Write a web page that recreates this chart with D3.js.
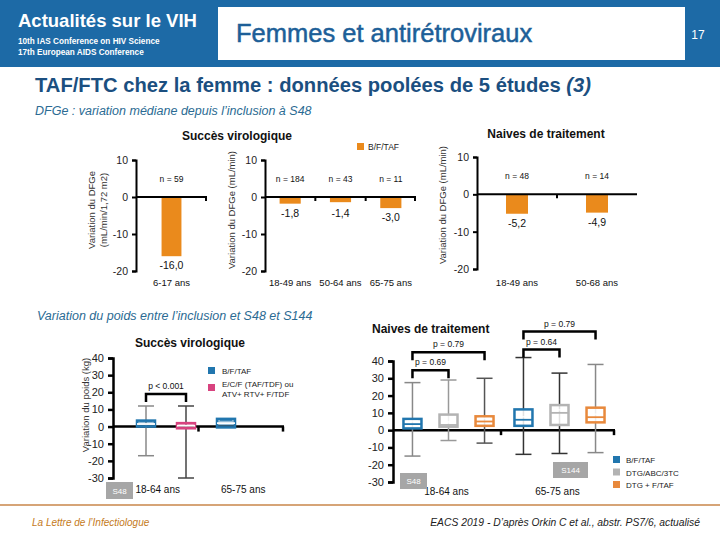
<!DOCTYPE html>
<html><head><meta charset="utf-8">
<script src="https://cdn.jsdelivr.net/npm/d3@7"></script>
<style>
body{margin:0;background:#fff;}
svg{display:block;font-family:"Liberation Sans",Arial,sans-serif;}
</style></head>
<body>
<svg id="c" width="720" height="540"></svg>
<script>
// ---------- DATA ----------
const dfgeTicks = [10, 0, -10, -20];
const succesYoungCats = ["6-17 ans"];
const succesYoungVals = [-16.0];
const succesYoungN = ["n = 59"];
const succesAdultCats = ["18-49 ans", "50-64 ans", "65-75 ans"];
const succesAdultVals = [-1.8, -1.4, -3.0];
const succesAdultN = ["n = 184", "n = 43", "n = 11"];
const naiveCats = ["18-49 ans", "50-68 ans"];
const naiveVals = [-5.2, -4.9];
const naiveN = ["n = 48", "n = 14"];

const poidsTicks = [40, 30, 20, 10, 0, -10, -20, -30];
const poidsGroups = ["18-64 ans", "65-75 ans"];
// virologic success boxes: [group, series, q1, median, q3, low, high]
const succesBoxSeries = ["B/F/TAF", "E/C/F (TAF/TDF) ou|ATV+ RTV+ F/TDF"];
const succesBoxes = [
  ["18-64 ans", "B/F/TAF", 0, 1.5, 3.5, -17, 12],
  ["18-64 ans", "E/C/F (TAF/TDF) ou|ATV+ RTV+ F/TDF", -1, 0.5, 2, -30, 12],
  ["65-75 ans", "B/F/TAF", -0.5, 2, 4.5, null, null]
];
const naiveBoxSeries = ["B/F/TAF", "DTG/ABC/3TC", "DTG + F/TAF"];
const naiveBoxes = [
  ["18-64 ans", "B/F/TAF", 1, 3.5, 6.5, -15, 27.5],
  ["18-64 ans", "DTG/ABC/3TC", 2, 3, 9, -6, 29],
  ["18-64 ans", "DTG + F/TAF", 2.5, 5, 8, -7.5, 30],
  ["65-75 ans", "B/F/TAF", 2.5, 6, 12, -14, 42],
  ["65-75 ans", "DTG/ABC/3TC", 3, 10, 14.5, -13.5, 33],
  ["65-75 ans", "DTG + F/TAF", 4.5, 7.5, 13, -13, 38]
];
// p-value brackets: [group, seriesFrom, seriesTo, label, level]
const succesP = [["18-64 ans", "B/F/TAF", "E/C/F (TAF/TDF) ou|ATV+ RTV+ F/TDF", "p < 0.001", 0]];
const naiveP = [
  ["18-64 ans", "B/F/TAF", "DTG/ABC/3TC", "p = 0.69", 0],
  ["18-64 ans", "B/F/TAF", "DTG + F/TAF", "p = 0.79", 1],
  ["65-75 ans", "B/F/TAF", "DTG/ABC/3TC", "p = 0.64", 0],
  ["65-75 ans", "B/F/TAF", "DTG + F/TAF", "p = 0.79", 1]
];

// ---------- STYLE ----------
const BLUE_HDR = "#1d6aa6";
const ORANGE = "#ea8a1c";
const seriesColor = {
  "B/F/TAF": "#2176ae",
  "E/C/F (TAF/TDF) ou|ATV+ RTV+ F/TDF": "#d8437f",
  "DTG/ABC/3TC": "#b3b3b3",
  "DTG + F/TAF": "#e8893c"
};
const succesWhisk = ["#888", "#444", "#888"];
const naiveWhisk = ["#888", "#999", "#555", "#333", "#333", "#888"];

const svg = d3.select("#c");

// ---------- HEADER ----------
svg.append("rect").attr("x",0).attr("y",0).attr("width",720).attr("height",67).attr("fill",BLUE_HDR);
svg.append("rect").attr("x",218).attr("y",7).attr("width",467).attr("height",53).attr("fill","#fff");
svg.append("text").attr("x",236).attr("y",42).attr("font-size",25.5).attr("fill","#1d5f98")
  .attr("stroke","#1d5f98").attr("stroke-width",0.5).text("Femmes et antirétroviraux");
svg.append("text").attr("x",698).attr("y",39).attr("font-size",12).attr("fill","#fff").attr("text-anchor","middle").text("17");
svg.append("text").attr("x",18).attr("y",27).attr("font-size",18.5).attr("font-weight","bold").attr("fill","#fff").text("Actualités sur le VIH");
svg.append("text").attr("x",18).attr("y",44).attr("font-size",8.2).attr("font-weight","bold").attr("fill","#fff").text("10th IAS Conference on HIV Science");
svg.append("text").attr("x",18).attr("y",55).attr("font-size",8.2).attr("font-weight","bold").attr("fill","#fff").text("17th European AIDS Conference");

const sub = svg.append("text").attr("x",35).attr("y",92).attr("font-size",20.2).attr("font-weight","bold").attr("fill","#1b4f80");
sub.append("tspan").text("TAF/FTC chez la femme : données poolées de 5 études ");
sub.append("tspan").attr("font-style","italic").text("(3)");

svg.append("text").attr("x",35).attr("y",115).attr("font-size",12.5).attr("font-style","italic").attr("fill","#2b6b93").text("DFGe : variation médiane depuis l’inclusion à S48");
svg.append("text").attr("x",37).attr("y",320).attr("font-size",12.5).attr("font-style","italic").attr("fill","#2b6b93").text("Variation du poids entre l’inclusion et S48 et S144");

// ---------- BAR CHARTS ----------
const fmtVal = d => d3.format(".1f")(d).replace(".",",").replace("\u2212","-");
function barChart(opt){
  const g = svg.append("g");
  const y = d3.scaleLinear().domain([-20,10]).range(opt.yr);
  const x = d3.scaleBand().domain(opt.cats).range(opt.xr).paddingInner(opt.pi).paddingOuter(opt.pi/2);
  const ax = g.append("g").attr("transform",`translate(${opt.xr[0]},0)`)
    .call(d3.axisLeft(y).tickValues(dfgeTicks).tickSize(4).tickPadding(4).tickFormat(d=>String(d)));
  ax.select(".domain").attr("stroke","#000").attr("stroke-width",2);
  ax.selectAll(".tick line").attr("stroke","#000").attr("stroke-width",2);
  ax.selectAll(".tick text").attr("font-size",10.5).attr("fill","#222").attr("font-family","Liberation Sans,Arial");
  g.selectAll("rect.bar").data(opt.vals).join("rect")
    .attr("x",(d,i)=>x(opt.cats[i])).attr("width",x.bandwidth())
    .attr("y",y(0)).attr("height",d=>y(d)-y(0)).attr("fill",ORANGE);
  g.append("line").attr("x1",opt.xr[0]).attr("x2",opt.xr[1]).attr("y1",y(0)).attr("y2",y(0)).attr("stroke","#000").attr("stroke-width",2);
  const step = x.step();
  opt.cats.forEach((c,i)=>{
    const bx = x(c) + x.bandwidth() + step*opt.pi/2;
    if (i < opt.cats.length-1 || opt.endTick)
      g.append("line").attr("x1",Math.min(bx,opt.xr[1]-1)).attr("x2",Math.min(bx,opt.xr[1]-1)).attr("y1",y(0)).attr("y2",y(0)+4).attr("stroke","#000").attr("stroke-width",2);
  });
  g.selectAll("text.n").data(opt.n).join("text").attr("class","n")
    .attr("x",(d,i)=>x(opt.cats[i])+x.bandwidth()/2).attr("y",y(0)-15).attr("text-anchor","middle")
    .attr("font-size",8.5).attr("fill","#111").text(d=>d);
  g.selectAll("text.v").data(opt.vals).join("text").attr("class","v")
    .attr("x",(d,i)=>x(opt.cats[i])+x.bandwidth()/2).attr("y",d=>Math.max(y(d)+13, y(0)+20)).attr("text-anchor","middle")
    .attr("font-size",10.5).attr("fill","#111").text(fmtVal);
  g.selectAll("text.c").data(opt.cats).join("text").attr("class","c")
    .attr("x",d=>x(d)+x.bandwidth()/2).attr("y",opt.catY).attr("text-anchor","middle")
    .attr("font-size",9.5).attr("fill","#111").text(d=>d);
  return g;
}
barChart({cats:succesYoungCats, vals:succesYoungVals, n:succesYoungN, xr:[136,207], yr:[271,160], pi:0.72, catY:286, endTick:true});
barChart({cats:succesAdultCats, vals:succesAdultVals, n:succesAdultN, xr:[265,416], yr:[271,160], pi:0.58, catY:286, endTick:true});
barChart({cats:naiveCats, vals:naiveVals, n:naiveN, xr:[477,637], yr:[269,157], pi:0.725, catY:286, endTick:false});

svg.append("text").attr("x",237).attr("y",140).attr("font-size",12).attr("font-weight","bold").attr("text-anchor","middle").attr("fill","#111").text("Succès virologique");
svg.append("text").attr("x",546).attr("y",138).attr("font-size",12).attr("font-weight","bold").attr("text-anchor","middle").attr("fill","#111").text("Naives de traitement");
svg.append("rect").attr("x",357).attr("y",143).attr("width",7).attr("height",7).attr("fill",ORANGE);
svg.append("text").attr("x",368).attr("y",150).attr("font-size",8.5).attr("fill","#222").text("B/F/TAF");

function vlabel(x,y,t,fs){
  svg.append("text").attr("transform",`translate(${x},${y}) rotate(-90)`).attr("text-anchor","middle")
    .attr("font-size",fs||9.5).attr("fill","#333").text(t);
}
vlabel(95,210,"Variation du DFGe");
vlabel(107,210,"(mL/min/1,72 m2)");
vlabel(235,210,"Variation du DFGe (mL/min)");
vlabel(446,205,"Variation du DFGe (mL/min)");
vlabel(89,405,"Variation du poids (kg)");

// ---------- BOX CHARTS ----------
function boxChart(opt){
  const g = svg.append("g");
  const y = d3.scaleLinear().domain([-30,40]).range(opt.yr);
  const x0 = d3.scaleBand().domain(poidsGroups).range(opt.xr);
  const ax = g.append("g").attr("transform",`translate(${opt.xr[0]},0)`)
    .call(d3.axisLeft(y).tickValues(poidsTicks).tickSize(5).tickPadding(4).tickFormat(d=>String(d)));
  ax.select(".domain").attr("stroke","#000").attr("stroke-width",2.5);
  ax.selectAll(".tick line").attr("stroke","#000").attr("stroke-width",2.5);
  ax.selectAll(".tick text").attr("font-size",11).attr("fill","#222").attr("font-family","Liberation Sans,Arial");
  g.append("line").attr("x1",opt.xr[0]).attr("x2",opt.xr[1]).attr("y1",y(0)).attr("y2",y(0)).attr("stroke","#000").attr("stroke-width",2.5);
  g.append("line").attr("x1",x0(poidsGroups[1])+opt.midTickShift).attr("x2",x0(poidsGroups[1])+opt.midTickShift).attr("y1",y(0)).attr("y2",y(0)+5).attr("stroke","#000").attr("stroke-width",2.5);
  g.append("line").attr("x1",opt.xr[1]-1).attr("x2",opt.xr[1]-1).attr("y1",y(0)).attr("y2",y(0)+5).attr("stroke","#000").attr("stroke-width",2.5);
  const bw = 18;
  opt.boxes.forEach((b,i)=>{
    const [grp, ser, q1, med, q3, lo, hi] = b;
    const cx = opt.xpos(grp, ser);
    const col = seriesColor[ser];
    if (lo !== null){
      const wc = opt.whisk[i];
      g.append("line").attr("x1",cx).attr("x2",cx).attr("y1",y(hi)).attr("y2",y(lo)).attr("stroke",wc).attr("stroke-width",1.5);
      [hi,lo].forEach(v=>g.append("line").attr("x1",cx-8).attr("x2",cx+8).attr("y1",y(v)).attr("y2",y(v)).attr("stroke",wc).attr("stroke-width",1.5));
    }
    g.append("rect").attr("x",cx-bw/2).attr("width",bw).attr("y",y(q3)).attr("height",y(q1)-y(q3))
      .attr("fill",opt.filled ? col : "#fff").attr("fill-opacity",opt.filled?0.5:0.85)
      .attr("stroke",col).attr("stroke-width",2.5);
    g.append("line").attr("x1",cx-bw/2).attr("x2",cx+bw/2).attr("y1",y(med)).attr("y2",y(med)).attr("stroke",opt.filled?"#fff":col).attr("stroke-width",1.8);
    g.append("line").attr("x1",cx-bw/2+3).attr("x2",cx+bw/2-3).attr("y1",y(med)-3).attr("y2",y(med)-3).attr("stroke",opt.filled?col:"#fff").attr("stroke-opacity",0.8).attr("stroke-width",1.5);
  });
  opt.pvals.forEach(p=>{
    const [grp, s1, s2, lab, lvl] = p;
    const xa = opt.xpos(grp,s1), xb = opt.xpos(grp,s2);
    const top = d3.max(opt.boxes.filter(b=>b[0]===grp && b[6]!==null), b=>b[6]);
    const yb = y(top) - opt.brBase - lvl*opt.brStep;
    g.append("path").attr("d",`M${xa},${yb+8}V${yb}H${xb}V${yb+8}`).attr("fill","none").attr("stroke","#000").attr("stroke-width",2.5);
    g.append("text").attr("x",(xa+xb)/2).attr("y",yb-5).attr("text-anchor","middle").attr("font-size",8.5).attr("fill","#111").text(lab);
  });
  g.selectAll("text.grp").data(poidsGroups).join("text").attr("class","grp")
    .attr("x",d=>x0(d)+x0.bandwidth()/2+opt.grpShift).attr("y",opt.grpY).attr("text-anchor","middle")
    .attr("font-size",10).attr("fill","#111").text(d=>d);
  return {g,y,x0};
}

const succX = d3.scaleBand().domain(succesBoxes.map(b=>b[0]+"|"+b[1])).range([126,246]);
boxChart({
  boxes:succesBoxes, whisk:succesWhisk, pvals:succesP, yr:[478,358], xr:[113,284], filled:true,
  xpos:(g,s)=>succX(g+"|"+s)+succX.bandwidth()/2, midTickShift:0, grpShift:2, grpY:493,
  brBase:12, brStep:12
});
const nx0 = d3.scaleBand().domain(poidsGroups).range([393,615]);
const nx1 = d3.scaleBand().domain(naiveBoxSeries).range([0,nx0.bandwidth()]).paddingOuter(0.04);
boxChart({
  boxes:naiveBoxes, whisk:naiveWhisk, pvals:naiveP, yr:[482,361], xr:[393,615], filled:false,
  xpos:(g,s)=>nx0(g)+nx1(s)+nx1.bandwidth()/2, midTickShift:-3, grpShift:-2, grpY:495,
  brBase:8, brStep:18
});

svg.append("text").attr("x",190).attr("y",347).attr("font-size",12).attr("font-weight","bold").attr("text-anchor","middle").attr("fill","#111").text("Succès virologique");
svg.append("text").attr("x",372).attr("y",333).attr("font-size",12).attr("font-weight","bold").attr("fill","#111").text("Naives de traitement");

function tag(x,y,w,h,t){
  svg.append("rect").attr("x",x).attr("y",y).attr("width",w).attr("height",h).attr("fill","#a6a6a6");
  svg.append("text").attr("x",x+w/2).attr("y",y+h/2+3).attr("text-anchor","middle").attr("font-size",8).attr("fill","#fff").text(t);
}
tag(106,482,27,17,"S48");
tag(400,473,27,16,"S48");
tag(553,462,35,16,"S144");

succesBoxSeries.forEach((s,i)=>{
  const yy = 372 + i*17;
  svg.append("rect").attr("x",208).attr("y",yy-5).attr("width",7).attr("height",7).attr("fill",seriesColor[s]);
  s.split("|").forEach((line,j)=>{
    svg.append("text").attr("x",222).attr("y",yy+2+j*10 - (s.includes("|")?4:0)).attr("font-size",8).attr("fill","#222").text(line);
  });
});
naiveBoxSeries.forEach((s,i)=>{
  const yy = 460 + i*12.5;
  svg.append("rect").attr("x",613).attr("y",yy-4).attr("width",7).attr("height",7).attr("fill",seriesColor[s]);
  svg.append("text").attr("x",626).attr("y",yy+3).attr("font-size",8).attr("fill","#222").text(s);
});

// ---------- FOOTER ----------
svg.append("line").attr("x1",0).attr("x2",720).attr("y1",505).attr("y2",505).attr("stroke","#c8864a").attr("stroke-width",1.5);
svg.append("text").attr("x",32).attr("y",526).attr("font-size",10).attr("font-style","italic").attr("fill","#c47a22").text("La Lettre de l’Infectiologue");
svg.append("text").attr("x",700).attr("y",526).attr("font-size",10.3).attr("font-style","italic").attr("text-anchor","end").attr("fill","#222").text("EACS 2019 - D’après Orkin C et al., abstr. PS7/6, actualisé");
</script>
</body></html>
